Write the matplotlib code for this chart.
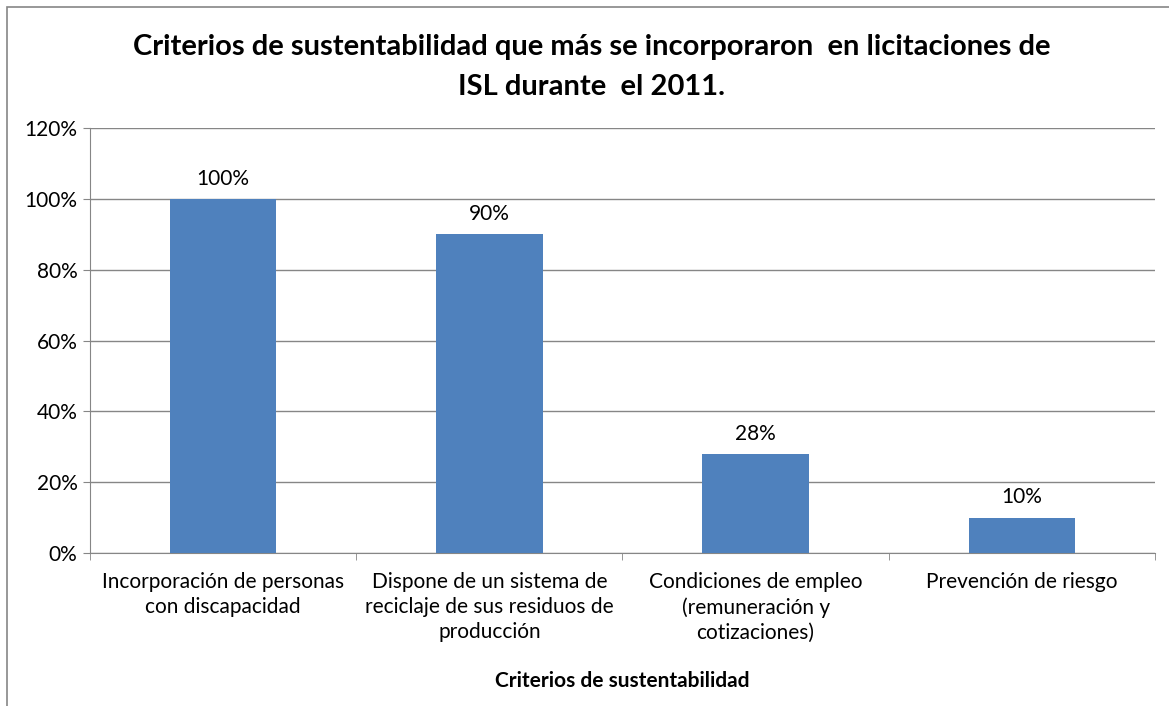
import matplotlib

matplotlib.use("Agg")
import matplotlib.pyplot as plt
from matplotlib.patches import Rectangle

categories = [
    "Incorporación de personas\ncon discapacidad",
    "Dispone de un sistema de\nreciclaje de sus residuos de\nproducción",
    "Condiciones de empleo\n(remuneración y\ncotizaciones)",
    "Prevención de riesgo",
]
values = [100, 90, 28, 10]
value_labels = ["100%", "90%", "28%", "10%"]
y_ticks = [0, 20, 40, 60, 80, 100, 120]

plt.rcParams["font.family"] = ["Lato", "DejaVu Sans"]
grid_color = "#868686"

fig = plt.figure(figsize=(11.69, 7.06), dpi=100)
ax = fig.add_axes([0.077, 0.2167, 0.911, 0.602])

x = list(range(len(categories)))
ax.bar(x, values, width=0.4, color="#4F81BD", zorder=3)
for xi, v, lab in zip(x, values, value_labels):
    ax.annotate(lab, (xi, v), xytext=(0, 14.5), textcoords="offset points",
                ha="center", va="center", fontsize=15, color="black")

ax.set_xlim(-0.5, len(categories) - 0.5)
ax.set_ylim(0, 120)
ax.set_yticks(y_ticks)
ax.set_yticklabels([f"{t}%" for t in y_ticks], fontsize=15)
ax.set_xticks(x)
ax.set_xticklabels(categories, fontsize=15, linespacing=1.3)
ax.tick_params(axis="x", length=0, pad=14)
ax.tick_params(axis="y", length=5, color=grid_color, pad=4)
# category boundary ticks
ax.set_xticks([i - 0.5 for i in range(len(categories) + 1)], minor=True)
ax.tick_params(axis="x", which="minor", length=5, color=grid_color)

ax.grid(axis="y", color=grid_color, linewidth=1, zorder=0)
for side in ["top", "right"]:
    ax.spines[side].set_visible(False)
for side in ["left", "bottom"]:
    ax.spines[side].set_color(grid_color)

ax.set_xlabel("Criterios de sustentabilidad", fontsize=15, fontweight="bold", labelpad=20)
fig.text(0.506, 0.905,
         "Criterios de sustentabilidad que más se incorporaron  en licitaciones de\nISL durante  el 2011.",
         ha="center", va="center", fontsize=21, fontweight="bold", linespacing=1.7)

fig.patches.append(Rectangle((0.006, -0.02), 1.1, 1.0101, transform=fig.transFigure,
                             fill=False, edgecolor=grid_color, linewidth=1.2))

fig.savefig("out.png", dpi=100)
